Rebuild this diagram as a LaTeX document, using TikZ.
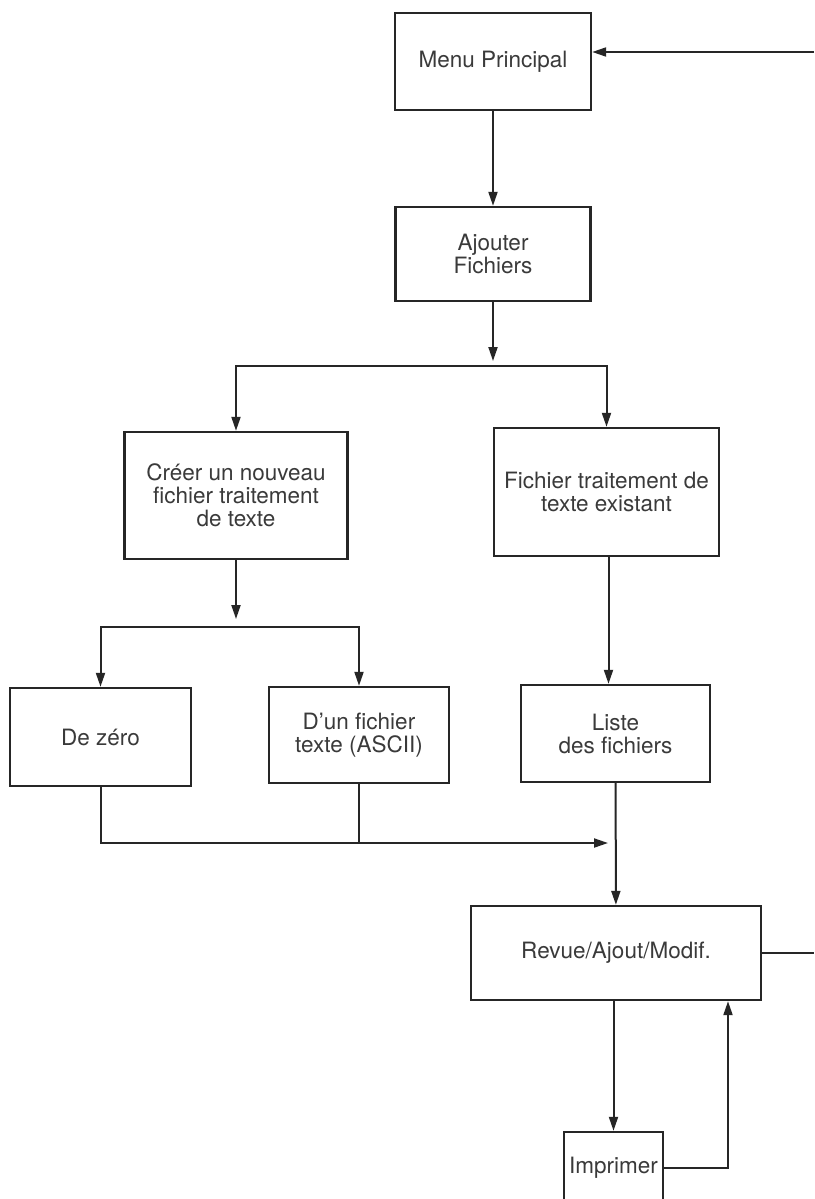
\documentclass[tikz,border=0pt]{standalone}
\usepackage{fontspec}
\setmainfont{TeX Gyre Heros}
\usetikzlibrary{arrows.meta}
\definecolor{ink}{HTML}{262626}
\definecolor{type}{HTML}{3A3A3A}
\newcommand{\boxfont}{\fontsize{22.5}{23}\selectfont}

\begin{document}
\begin{tikzpicture}[x=1pt,y=1pt,font=\boxfont,
  box/.style={draw=ink,line width=2.4pt,text=type,align=center,inner sep=2pt},
  link/.style={draw=ink,line width=2pt},
  arr/.style={link,-{Triangle[length=14pt,width=9pt]}}]
\useasboundingbox (0,0) rectangle (814,-1199);
\fill[white] (0,0) rectangle (814,-1199);
\node[box,minimum width=196,minimum height=97] (menu) at (493,-61.5) {Menu Principal};
\node[box,minimum width=195,minimum height=94] (ajout) at (493,-254) {Ajouter\\Fichiers};
\node[box,minimum width=223,minimum height=127] (creer) at (236,-495.5) {Créer un nouveau\\fichier traitement\\de texte};
\node[box,minimum width=225,minimum height=128] (exist) at (606.5,-492) {Fichier traitement de\\texte existant};
\node[box,minimum width=181,minimum height=98] (zero) at (100.5,-737) {De zéro};
\node[box,minimum width=180,minimum height=96] (ascii) at (359,-735) {D'un fichier\\texte (ASCII)};
\node[box,minimum width=189,minimum height=97] (liste) at (615.5,-733.5) {Liste\\des fichiers};
\node[box,minimum width=290,minimum height=94] (revue) at (616,-953) {Revue/Ajout/Modif.};
\node[box,minimum width=99,minimum height=72,inner sep=0pt] (imprimer) at (613.5,-1168) {Imprimer};
\coordinate (loopin) at (814,-52);
\coordinate (loopout) at (814,-953);
\coordinate (split1) at (493,-366);
\coordinate (split2) at (236,-627);
\coordinate (merge) at (612,-843);
\draw[arr] (loopin) -- (loopin -| menu.east);
\draw[arr] (menu) -- (ajout);
\draw[arr,shorten >=5pt] (ajout) -- (split1);
\draw[arr] (split1) -| (creer.north);
\draw[arr] (split1) -| (exist.north);
\draw[arr,shorten >=8pt] (creer) -- (split2);
\draw[arr] (split2) -| (zero.north);
\draw[arr] (split2) -| (ascii.north);
\draw[arr] ([xshift=2pt]exist.south) -- ([xshift=2pt]exist.south |- liste.north);
\draw[arr,shorten >=4pt] (zero.south) |- (merge);
\draw[link] (ascii.south) -- (ascii.south |- merge);
\draw[arr] (liste) -- (revue);
\draw[link] (revue.east) -- (loopout);
\draw[arr] (imprimer.north |- revue.south) -- (imprimer.north);
\draw[arr] (imprimer.east) -| ([xshift=112pt]revue.south);
\end{tikzpicture}
\end{document}
